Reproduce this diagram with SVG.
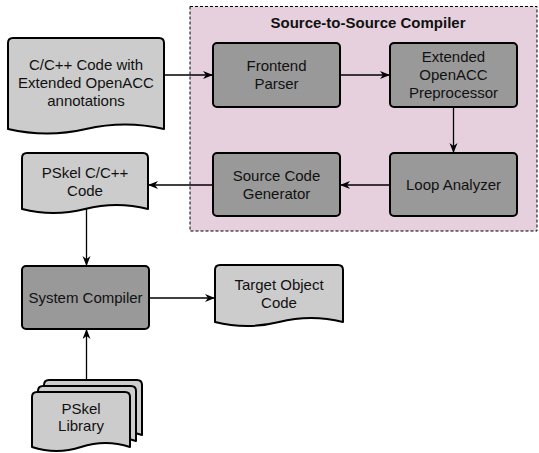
<svg xmlns="http://www.w3.org/2000/svg" width="539" height="453" viewBox="0 0 539 453">
<style>
.box{fill:#999999;stroke:#000;stroke-width:2}
.doc{fill:#cccccc;stroke:#000;stroke-width:2;stroke-linejoin:round}
.edge{fill:none;stroke:#000;stroke-width:1.3}
text{font-family:"Liberation Sans",Arial,sans-serif;font-size:15px;fill:#111;text-anchor:middle}
.title{font-weight:bold}
</style>
<defs>
<marker id="arr" markerUnits="userSpaceOnUse" markerWidth="11" markerHeight="9" refX="10" refY="4" orient="auto">
<path d="M0,0 L10,4 L0,8 L3,4 Z" fill="#000"/>
</marker>
</defs>
<g id="container">
<rect x="190" y="6.5" width="347" height="224.5" fill="#e6d0de" stroke="#000" stroke-width="1" stroke-dasharray="3,2"/>
<text class="title" x="368" y="28">Source-to-Source Compiler</text>
</g>
<g id="edges">
<path class="edge" d="M164,75 L213,75" marker-end="url(#arr)"/>
<path class="edge" d="M340,75 L390,75" marker-end="url(#arr)"/>
<path class="edge" d="M453.5,107 L453.5,153" marker-end="url(#arr)"/>
<path class="edge" d="M390,185 L340,185" marker-end="url(#arr)"/>
<path class="edge" d="M213,185 L148,185" marker-end="url(#arr)"/>
<path class="edge" d="M86.5,209 L86.5,266" marker-end="url(#arr)"/>
<path class="edge" d="M149,298 L215,298" marker-end="url(#arr)"/>
<path class="edge" d="M86.5,380 L86.5,329" marker-end="url(#arr)"/>
</g>
<g id="cdoc">
<path class="doc" d="M8,43 Q8,38 13,38 L159,38 Q164,38 164,43 L164,129 Q125,120 86,129 Q47,138 8,129 Z"/>
<text x="86" y="70">C/C++ Code with</text>
<text x="86" y="88">Extended OpenACC</text>
<text x="86" y="106">annotations</text>
</g>
<g id="frontend">
<rect class="box" x="213" y="43" width="127" height="64" rx="4"/>
<text x="276.5" y="71">Frontend</text>
<text x="276.5" y="89">Parser</text>
</g>
<g id="preprocessor">
<rect class="box" x="390" y="43" width="127" height="64" rx="4"/>
<text x="453.5" y="62">Extended</text>
<text x="453.5" y="80">OpenACC</text>
<text x="453.5" y="98">Preprocessor</text>
</g>
<g id="loop">
<rect class="box" x="390" y="153" width="127" height="63" rx="4"/>
<text x="453.5" y="190">Loop Analyzer</text>
</g>
<g id="generator">
<rect class="box" x="213" y="153" width="127" height="63" rx="4"/>
<text x="276.5" y="181">Source Code</text>
<text x="276.5" y="199">Generator</text>
</g>
<g id="pskelcode">
<path class="doc" d="M22,158 Q22,153 27,153 L143,153 Q148,153 148,158 L148,209 Q116.5,201 85,209 Q53.5,217 22,209 Z"/>
<text x="85" y="178">PSkel C/C++</text>
<text x="85" y="196">Code</text>
</g>
<g id="syscompiler">
<rect class="box" x="22" y="266" width="127" height="63" rx="4"/>
<text x="85.5" y="303">System Compiler</text>
</g>
<g id="target">
<path class="doc" d="M215,270 Q215,265 220,265 L338,265 Q343,265 343,270 L343,322 Q311,314 279,322 Q247,330 215,322 Z"/>
<text x="279" y="290">Target Object</text>
<text x="279" y="308">Code</text>
</g>
<g id="library">
<path class="doc" d="M44,385 Q44,380 49,380 L137,380 Q142,380 142,385 L142,435 Q117.5,427 93,435 Q68.5,443 44,435 Z"/>
<path class="doc" d="M38,391 Q38,386 43,386 L131,386 Q136,386 136,391 L136,441 Q111.5,433 87,441 Q62.5,449 38,441 Z"/>
<path class="doc" d="M32,397 Q32,392 37,392 L125,392 Q130,392 130,397 L130,447 Q105.5,439 81,447 Q56.5,455 32,447 Z"/>
<text x="81" y="414">PSkel</text>
<text x="81" y="431">Library</text>
</g>
</svg>
